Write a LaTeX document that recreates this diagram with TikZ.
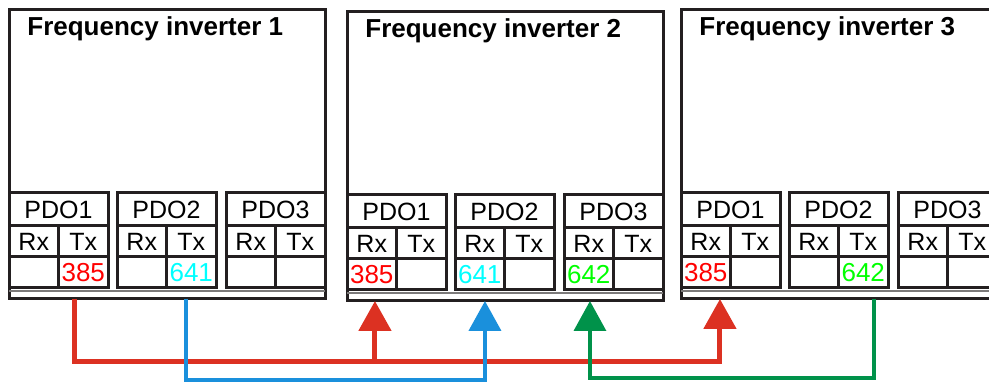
\documentclass[tikz,border=0pt]{standalone}
\usepackage{xcolor}
\usepackage{fontspec}
\setmainfont{Liberation Sans}
\usepackage{tikz}
\usetikzlibrary{arrows.meta}
\definecolor{wirered}{HTML}{DC3122}
\definecolor{wireblue}{HTML}{1A90DC}
\definecolor{wiregreen}{HTML}{00924A}
\definecolor{frame}{HTML}{231F20}
\definecolor{idred}{RGB}{255,0,0}
\definecolor{idcyan}{RGB}{0,255,255}
\definecolor{idgreen}{RGB}{0,255,0}

\begin{document}
\begin{tikzpicture}[x=0.5pt, y=-0.5pt,
  inverter/.style = {draw=frame, line width=1.5pt, outer sep=0pt,
    minimum width=158pt, minimum height=144.5pt, anchor=north west},
  invtitle/.style = {anchor=west, inner sep=0pt,
    font=\bfseries\fontsize{13}{15}\selectfont},
  pdohead/.style = {draw=frame, line width=1.5pt, outer sep=0pt, inner sep=0pt,
    minimum width=49.5pt, minimum height=16.5pt, anchor=north west,
    font=\fontsize{12.5}{14}\selectfont},
  cell/.style = {draw=frame, line width=1.5pt, outer sep=0pt, inner sep=0pt,
    minimum width=24.75pt, minimum height=15.5pt, anchor=north west,
    font=\fontsize{12.5}{14}\selectfont},
  value/.style = {inner sep=0pt, font=\fontsize{13}{14}\selectfont},
  wire/.style = {line width=#1, -{Triangle[length=15pt,width=16pt]}},
  ]
  \useasboundingbox (0,0) rectangle (989,383);

  % the three inverters with their PDO tables
  \foreach \i/\ox/\oy in {1/9/0, 2/347/2, 3/681/0} {
    \node[inverter] (fi\i) at (\ox,10+\oy) {};
    \node[invtitle] (t\i) at (\ox+18,29+\oy) {Frequency inverter \i};
    \draw[frame!60, line width=0.6pt] ([yshift=4pt]fi\i.south west)
      -- ([yshift=4pt]fi\i.south east);
    \foreach \p/\dx in {1/0, 2/108, 3/217} {
      \node[pdohead] (pdo\i\p) at (\ox+\dx,193+\oy) {PDO\p};
      \node[cell] (rx\i\p) at (\ox+\dx,226+\oy) {Rx};
      \node[cell] (tx\i\p) at (\ox+\dx+49.5,226+\oy) {Tx};
      \node[cell] (rxv\i\p) at (\ox+\dx,257+\oy) {};
      \node[cell] (txv\i\p) at (\ox+\dx+49.5,257+\oy) {};
    }
  }

  % COB-IDs
  \node[value, text=idred] (v385a) at (txv11) {385};
  \node[value, text=idcyan] (v641a) at (txv12) {641};
  \node[value, text=idred] (v385b) at (rxv21) {385};
  \node[value, text=idcyan] (v641b) at (rxv22) {641};
  \node[value, text=idgreen] (v642a) at (rxv23) {642};
  \node[value, text=idred] (v385c) at (rxv31) {385};
  \node[value, text=idgreen] (v642b) at (txv32) {642};

  % wiring
  \draw[wire=2.5pt, wirered] ([xshift=-4.6pt]txv11.south |- fi1.south)
    -- ++(0,63) coordinate (redbus) -| ([xshift=7.1pt]rxv31.south |- fi3.south);
  \draw[wire=2.5pt, wirered] ([xshift=1.6pt]rxv21.south |- redbus)
    -- ([xshift=1.6pt]rxv21.south |- fi2.south);
  \draw[wire=2pt, wireblue] ([xshift=-2.6pt]txv12.south |- fi1.south)
    -- ++(0,81) -| ([xshift=2.6pt]rxv22.south |- fi2.south);
  \draw[wire=1.75pt, wiregreen] ([xshift=5.4pt]txv32.south |- fi3.south)
    -- ++(0,79) -| ([xshift=0.6pt]rxv23.south |- fi2.south);
\end{tikzpicture}
\end{document}
